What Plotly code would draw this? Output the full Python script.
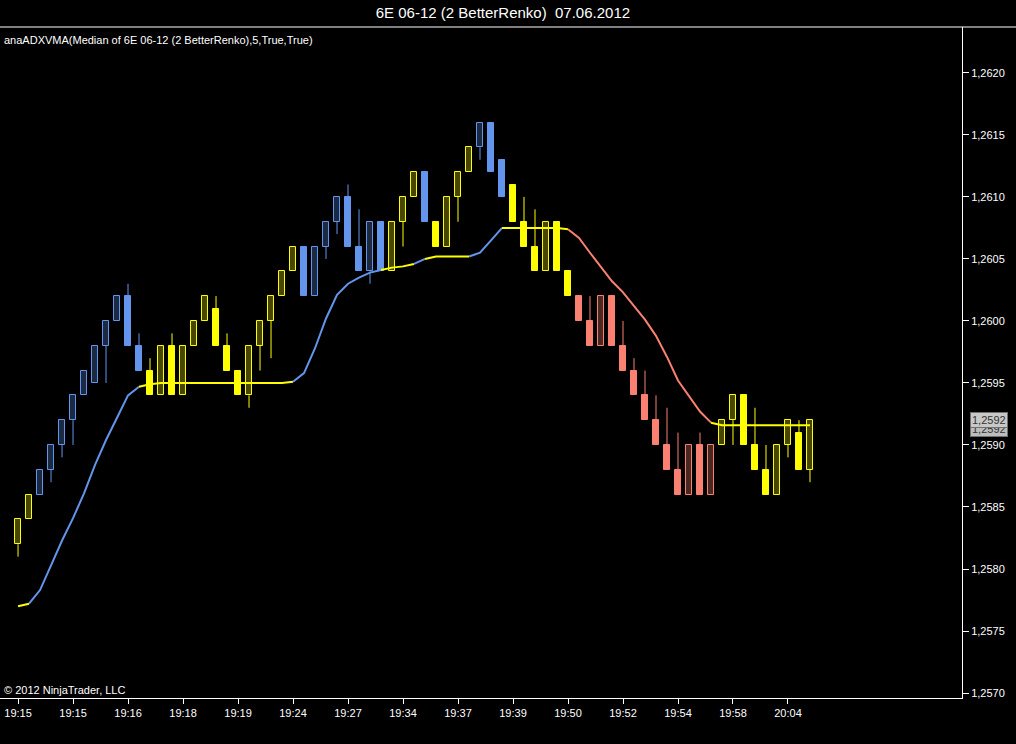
import plotly.graph_objects as go

# ---------------- data ----------------
time_labels = ["19:15", "19:15", "19:16", "19:18", "19:19", "19:24", "19:27", "19:34",
               "19:37", "19:39", "19:50", "19:52", "19:54", "19:58", "20:04"]

opens = [1.2582, 1.2584, 1.2586, 1.2588, 1.2590, 1.2592, 1.2594, 1.2595, 1.2598, 1.2600,
         1.2602, 1.2598, 1.2596, 1.2594, 1.2598, 1.2594, 1.2598, 1.2600, 1.2601, 1.2598,
         1.2596, 1.2594, 1.2598, 1.2600, 1.2602, 1.2604, 1.2606, 1.2602, 1.2606, 1.2608,
         1.2610, 1.2606, 1.2604, 1.2608, 1.2604, 1.2608, 1.2610, 1.2612, 1.2608, 1.2606,
         1.2610, 1.2612, 1.2614, 1.2616, 1.2613, 1.2611, 1.2608, 1.2606, 1.2604, 1.2608,
         1.2604, 1.2602, 1.2600, 1.2598, 1.2602, 1.2598, 1.2596, 1.2594, 1.2592, 1.2590,
         1.2588, 1.2586, 1.2590, 1.2586, 1.2590, 1.2592, 1.2594, 1.2590, 1.2588, 1.2586,
         1.2590, 1.2591, 1.2588]
highs = [1.2584, 1.2586, 1.2588, 1.2590, 1.2592, 1.2594, 1.2596, 1.2598, 1.2600, 1.2602,
         1.2603, 1.2599, 1.2597, 1.2598, 1.2599, 1.2598, 1.2600, 1.2602, 1.2602, 1.2599,
         1.2596, 1.2598, 1.2600, 1.2602, 1.2604, 1.2606, 1.2606, 1.2606, 1.2608, 1.2610,
         1.2611, 1.2609, 1.2608, 1.2608, 1.2608, 1.2610, 1.2612, 1.2612, 1.2608, 1.2610,
         1.2612, 1.2614, 1.2616, 1.2616, 1.2613, 1.2611, 1.2610, 1.2609, 1.2608, 1.2608,
         1.2604, 1.2602, 1.2602, 1.2602, 1.2602, 1.2600, 1.2597, 1.2596, 1.2594, 1.2593,
         1.2591, 1.2590, 1.2591, 1.2590, 1.2592, 1.2594, 1.2594, 1.2593, 1.2590, 1.2590,
         1.2592, 1.2592, 1.2592]
lows = [1.2581, 1.2584, 1.2586, 1.2587, 1.2589, 1.2590, 1.2594, 1.2595, 1.2595, 1.2600,
        1.2598, 1.2596, 1.2594, 1.2594, 1.2594, 1.2594, 1.2598, 1.2600, 1.2598, 1.2596,
        1.2594, 1.2593, 1.2596, 1.2597, 1.2602, 1.2604, 1.2602, 1.2602, 1.2605, 1.2607,
        1.2606, 1.2604, 1.2603, 1.2604, 1.2604, 1.2606, 1.2610, 1.2608, 1.2606, 1.2606,
        1.2608, 1.2612, 1.2613, 1.2612, 1.2610, 1.2608, 1.2606, 1.2604, 1.2604, 1.2604,
        1.2602, 1.2600, 1.2598, 1.2598, 1.2598, 1.2596, 1.2594, 1.2592, 1.2590, 1.2588,
        1.2586, 1.2586, 1.2586, 1.2586, 1.2590, 1.2590, 1.2590, 1.2588, 1.2586, 1.2586,
        1.2589, 1.2588, 1.2587]
closes = [1.2584, 1.2586, 1.2588, 1.2590, 1.2592, 1.2594, 1.2596, 1.2598, 1.2600, 1.2602,
          1.2598, 1.2596, 1.2594, 1.2598, 1.2594, 1.2598, 1.2600, 1.2602, 1.2598, 1.2596,
          1.2594, 1.2598, 1.2600, 1.2602, 1.2604, 1.2606, 1.2602, 1.2606, 1.2608, 1.2610,
          1.2606, 1.2604, 1.2608, 1.2604, 1.2608, 1.2610, 1.2612, 1.2608, 1.2606, 1.2610,
          1.2612, 1.2614, 1.2616, 1.2612, 1.2610, 1.2608, 1.2606, 1.2604, 1.2608, 1.2604,
          1.2602, 1.2600, 1.2598, 1.2602, 1.2598, 1.2596, 1.2594, 1.2592, 1.2590, 1.2588,
          1.2586, 1.2590, 1.2586, 1.2590, 1.2592, 1.2594, 1.2590, 1.2588, 1.2586, 1.2590,
          1.2592, 1.2588, 1.2592]
# trend state of the ADXVMA: 1 rising, 0 flat, -1 falling
trend = [0, 0, 1, 1, 1, 1, 1, 1, 1, 1,
         1, 1, 0, 0, 0, 0, 0, 0, 0, 0,
         0, 0, 0, 0, 0, 0, 1, 1, 1, 1,
         1, 1, 1, 1, 0, 0, 0, 1, 0, 0,
         0, 0, 1, 1, 1, 0, 0, 0, 0, 0,
         0, -1, -1, -1, -1, -1, -1, -1, -1, -1,
         -1, -1, -1, -1, 0, 0, 0, 0, 0, 0,
         0, 0, 0]
adxvma = [1.25770, 1.25772, 1.25783, 1.25803, 1.25823, 1.25841, 1.25861, 1.25884, 1.25904, 1.25922,
          1.25940, 1.25947, 1.25949, 1.25950, 1.25950, 1.25950, 1.25950, 1.25950, 1.25950, 1.25950,
          1.25950, 1.25950, 1.25950, 1.25950, 1.25950, 1.25951, 1.25958, 1.25978, 1.26002, 1.26021,
          1.26030, 1.26035, 1.26039, 1.26041, 1.26043, 1.26044, 1.26046, 1.26050, 1.26052, 1.26052,
          1.26052, 1.26052, 1.26055, 1.26065, 1.26075, 1.26075, 1.26075, 1.26075, 1.26075, 1.26075,
          1.26074, 1.26067, 1.26055, 1.26043, 1.26032, 1.26023, 1.26012, 1.26001, 1.25988, 1.25971,
          1.25952, 1.25939, 1.25927, 1.25918, 1.25916, 1.25916, 1.25916, 1.25916, 1.25916, 1.25916,
          1.25916, 1.25916, 1.25916]

# ---------------- styles ----------------
COLORS = {1: "#6495ED", 0: "#FFFF00", -1: "#FA8072"}
HOLLOW = {1: "rgba(100,149,237,0.28)", 0: "rgba(255,255,0,0.28)", -1: "rgba(250,128,114,0.30)"}
FONT = "Liberation Sans, Arial, sans-serif"

n = len(closes)
xs = list(range(n))

fig = go.Figure()

# candle bodies
fig.add_trace(go.Bar(
    x=xs,
    base=[min(o, c) for o, c in zip(opens, closes)],
    y=[abs(c - o) for o, c in zip(opens, closes)],
    width=0.5,
    marker=dict(
        color=[HOLLOW[t] if c > o else COLORS[t] for o, c, t in zip(opens, closes, trend)],
        line=dict(color=[COLORS[t] for t in trend], width=1),
    ),
    showlegend=False, hoverinfo="skip",
))

# wicks, one trace per colour
for state in (1, 0, -1):
    wx, wy = [], []
    for i in range(n):
        if trend[i] != state:
            continue
        lo_body = min(opens[i], closes[i])
        hi_body = max(opens[i], closes[i])
        if lows[i] < lo_body:
            wx += [i, i, None]
            wy += [lows[i], lo_body, None]
        if highs[i] > hi_body:
            wx += [i, i, None]
            wy += [hi_body, highs[i], None]
    if wx:
        fig.add_trace(go.Scatter(x=wx, y=wy, mode="lines",
                                 line=dict(color=COLORS[state], width=1),
                                 showlegend=False, hoverinfo="skip"))

# ADXVMA line, coloured by trend (segment i-1 -> i takes trend[i])
start = 0
for i in range(1, n + 1):
    if i == n or (i > 1 and trend[i] != trend[i - 1]):
        seg_end = i - 1
        state = trend[seg_end]
        fig.add_trace(go.Scatter(x=xs[start:seg_end + 1], y=adxvma[start:seg_end + 1],
                                 mode="lines", line=dict(color=COLORS[state], width=2),
                                 showlegend=False, hoverinfo="skip"))
        start = seg_end

tickvals = list(range(0, 5 * len(time_labels), 5))

fig.update_layout(
    width=1016, height=744,
    paper_bgcolor="black", plot_bgcolor="black",
    margin=dict(l=0, r=54, t=27, b=46),
    separators=",.",
    bargap=0,
    font=dict(family=FONT, color="white", size=11),
    title=dict(text="6E 06-12 (2 BetterRenko)  07.06.2012", x=0.495, xanchor="center",
               y=0.9825, yanchor="middle", font=dict(size=15, color="white", family=FONT)),
    xaxis=dict(range=[-1.64, 85.82], tickvals=tickvals, ticktext=time_labels,
               ticks="outside", ticklen=5, tickcolor="white", showline=True,
               linecolor="white", linewidth=1, showgrid=False, zeroline=False,
               tickfont=dict(size=11, color="white"), automargin=False, fixedrange=True),
    yaxis=dict(range=[1.25696, 1.26237], side="right", tick0=1.2570, dtick=0.0005,
               tickformat=".4f", ticks="outside", ticklen=6, tickcolor="white",
               showline=True, linecolor="white", linewidth=1, showgrid=False,
               zeroline=False, tickfont=dict(size=11, color="white"), automargin=False),
    showlegend=False,
    shapes=[dict(type="line", xref="paper", yref="paper", x0=0, x1=1.06, y0=1, y1=1,
                 line=dict(color="white", width=1))],
    annotations=[
        dict(text="anaADXVMA(Median of 6E 06-12 (2 BetterRenko),5,True,True)",
             xref="paper", yref="paper", x=0, y=1, xanchor="left", yanchor="top",
             xshift=2, yshift=-5, showarrow=False, font=dict(size=11, color="white")),
        dict(text="© 2012 NinjaTrader, LLC", xref="paper", yref="paper", x=0, y=0,
             xanchor="left", yanchor="bottom", xshift=2, yshift=0, showarrow=False,
             font=dict(size=11, color="white")),
        dict(text=f"{adxvma[-1]:.4f}".replace(".", ","), xref="paper", yref="y",
             x=1, y=adxvma[-1], xanchor="left", yanchor="middle", xshift=8, yshift=-4,
             showarrow=False, bgcolor="#bdbdbd", bordercolor="#707070", borderwidth=1,
             borderpad=1, font=dict(size=11, color="#333333")),
        dict(text=f"{closes[-1]:.4f}".replace(".", ","), xref="paper", yref="y",
             x=1, y=closes[-1], xanchor="left", yanchor="middle", xshift=8,
             showarrow=False, bgcolor="#c8c8c8", bordercolor="#707070", borderwidth=1,
             borderpad=1, font=dict(size=11, color="#333333")),
    ],
)

fig.write_html("out.html",
               config={"displayModeBar": False},
               post_script="document.body.style.margin='0';document.body.style.overflow='hidden';"
                           "document.body.style.background='black';")
